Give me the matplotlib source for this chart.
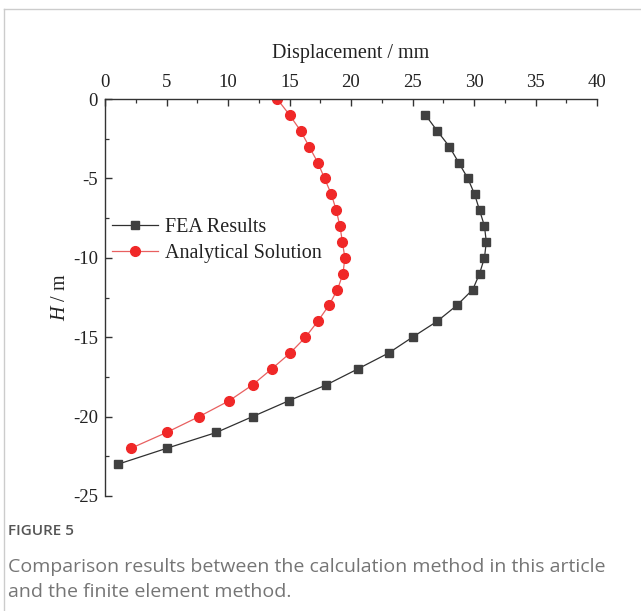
import matplotlib
matplotlib.use("Agg")
import matplotlib.pyplot as plt
from matplotlib.lines import Line2D
from matplotlib.ticker import MultipleLocator

plt.rcParams["mathtext.fontset"] = "custom"
plt.rcParams["mathtext.rm"] = "Liberation Serif"
plt.rcParams["mathtext.it"] = "Liberation Serif:italic"

# Depth (m) and horizontal displacement (mm)
depth_analytical = [0, -1, -2, -3, -4, -5, -6, -7, -8, -9, -10, -11, -12,
                    -13, -14, -15, -16, -17, -18, -19, -20, -21, -22]
disp_analytical = [14.0, 15.0, 15.9, 16.6, 17.3, 17.85, 18.4, 18.8, 19.1, 19.3,
                   19.5, 19.35, 18.9, 18.2, 17.3, 16.3, 15.05, 13.55, 12.0,
                   10.1, 7.65, 5.0, 2.1]

depth_fea = [-1, -2, -3, -4, -5, -6, -7, -8, -9, -10, -11, -12, -13, -14,
             -15, -16, -17, -18, -19, -20, -21, -22, -23]
disp_fea = [26.05, 27.0, 28.0, 28.75, 29.5, 30.05, 30.45, 30.85, 31.0, 30.85,
            30.45, 29.9, 28.6, 27.0, 25.0, 23.05, 20.55, 18.0, 14.95, 12.0,
            9.05, 5.0, 1.05]

x_ticks = [0, 5, 10, 15, 20, 25, 30, 35, 40]
y_ticks = [0, -5, -10, -15, -20, -25]

W, H = 641, 611
fig = plt.figure(figsize=(W / 100, H / 100), dpi=100)
fig.patch.set_facecolor("white")

serif = ["Liberation Serif", "DejaVu Serif"]
sans = ["Open Sans", "DejaVu Sans"]

ax = fig.add_axes([105 / W, 1 - 496 / H, (597 - 105) / W, (496 - 99) / H])
ax.set_xlim(0, 40)
ax.set_ylim(-25, 0)

ax.plot(disp_fea, depth_fea, color="#303030", lw=0.9, marker="s",
        markersize=6, markerfacecolor="#404040", markeredgecolor="#404040",
        label="FEA Results")
ax.plot(disp_analytical, depth_analytical, color="#e86060", lw=0.9, marker="o",
        markersize=7, markerfacecolor="#f02828", markeredgecolor="#f02828",
        label="Analytical Solution")

for side in ("right", "bottom"):
    ax.spines[side].set_visible(False)
for side in ("left", "top"):
    ax.spines[side].set_color("#333333")
    ax.spines[side].set_linewidth(1.0)

ax.xaxis.set_ticks_position("top")
ax.xaxis.set_label_position("top")
ax.set_xticks(x_ticks)
ax.set_yticks(y_ticks)
ax.set_xticklabels([str(v) for v in x_ticks], family=serif, fontsize=13.5)
ax.set_yticklabels([str(v) for v in y_ticks], family=serif, fontsize=13.5)
ax.xaxis.set_minor_locator(MultipleLocator(2.5))
ax.yaxis.set_minor_locator(MultipleLocator(2.5))
ax.tick_params(which="major", direction="in", length=5, width=1.0,
               color="#333333", labelcolor="#222222")
ax.tick_params(axis="x", which="major", pad=6)
ax.tick_params(axis="y", which="major", pad=5)
ax.tick_params(which="minor", direction="in", length=3, width=0.9,
               color="#333333")
ax.tick_params(axis="x", which="both", top=True, bottom=False)
ax.tick_params(axis="y", which="both", left=True, right=False)

ax.set_xlabel("Displacement / mm", family=serif, fontsize=14.5,
              color="#222222", labelpad=11)
ax.set_ylabel(r"$\mathit{H}$ / m", family=serif, fontsize=14.5,
              color="#222222", labelpad=2)

leg = ax.legend(loc="upper left", bbox_to_anchor=(-0.01, 0.73), frameon=False,
                prop={"family": serif, "size": 14.5}, handlelength=2.3,
                handletextpad=0.3, labelspacing=0.32, borderaxespad=0.2)
for t in leg.get_texts():
    t.set_color("#222222")

# Caption block
fig.text(8 / W, 1 - 531 / H, "FIGURE 5", family=sans,
         fontsize=11, fontweight="semibold", color="#555555", va="center")
fig.text(8 / W, 1 - 567 / H,
         "Comparison results between the calculation method in this article",
         family=sans, fontsize=14.0, color="#757575", va="center")
fig.text(8 / W, 1 - 592 / H, "and the finite element method.",
         family=sans, fontsize=14.0, color="#757575", va="center")

# Panel border (left and top edges)
fig.add_artist(Line2D([4 / W, 4 / W], [0, 1 - 9 / H], transform=fig.transFigure,
                      color="#cccccc", lw=1.0))
fig.add_artist(Line2D([4 / W, 1], [1 - 9 / H, 1 - 9 / H],
                      transform=fig.transFigure, color="#cccccc", lw=1.0))

fig.savefig("out.png", dpi=100, facecolor="white")
